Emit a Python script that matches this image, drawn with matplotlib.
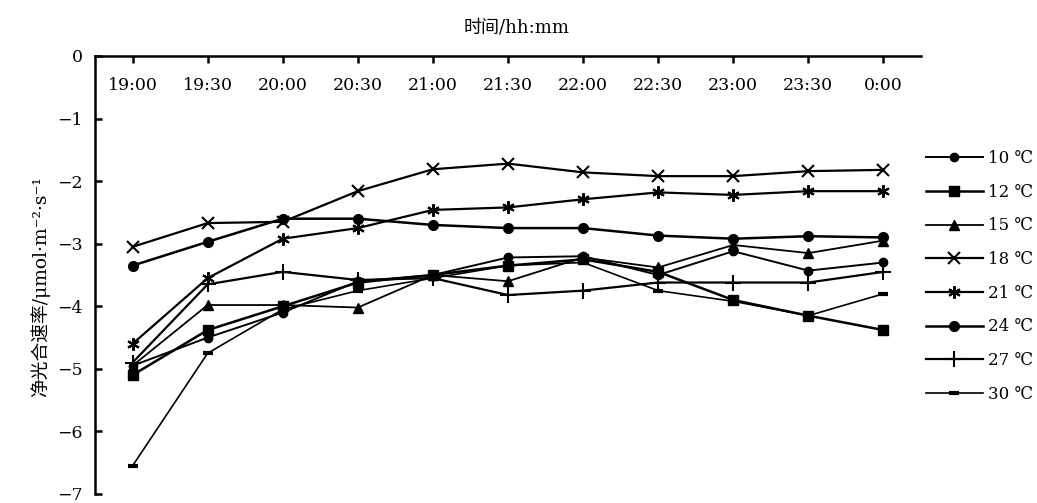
import matplotlib
matplotlib.use("Agg")
import matplotlib.pyplot as plt

plt.rcParams['font.family'] = ['DejaVu Serif', 'Noto Sans CJK SC', 'DejaVu Sans']
plt.rcParams['axes.unicode_minus'] = True

times = ["19:00", "19:30", "20:00", "20:30", "21:00", "21:30",
         "22:00", "22:30", "23:00", "23:30", "0:00"]

t10 = [-4.95, -4.50, -4.10, -3.60, -3.50, -3.22, -3.20, -3.50, -3.12, -3.43, -3.30]
t12 = [-5.10, -4.38, -4.00, -3.62, -3.50, -3.35, -3.25, -3.45, -3.90, -4.15, -4.38]
t15 = [-4.95, -3.98, -3.98, -4.02, -3.50, -3.60, -3.22, -3.38, -3.02, -3.15, -2.95]
t18 = [-3.05, -2.67, -2.65, -2.16, -1.81, -1.72, -1.86, -1.92, -1.92, -1.84, -1.82]
t21 = [-4.60, -3.55, -2.92, -2.75, -2.46, -2.42, -2.29, -2.18, -2.22, -2.16, -2.16]
t24 = [-3.35, -2.97, -2.60, -2.60, -2.70, -2.75, -2.75, -2.87, -2.92, -2.88, -2.90]
t27 = [-4.90, -3.65, -3.45, -3.58, -3.55, -3.82, -3.75, -3.62, -3.62, -3.62, -3.45]
t30 = [-6.55, -4.75, -4.05, -3.75, -3.55, -3.35, -3.30, -3.75, -3.92, -4.15, -3.80]

labels = ["10 ℃", "12 ℃", "15 ℃", "18 ℃", "21 ℃", "24 ℃", "27 ℃", "30 ℃"]
series = [t10, t12, t15, t18, t21, t24, t27, t30]
yticks = [0, -1, -2, -3, -4, -5, -6, -7]

styles = [
    dict(marker='o', ms=6, lw=1.4),
    dict(marker='s', ms=7, lw=1.8),
    dict(marker='^', ms=7, lw=1.3),
    dict(marker='x', ms=8, mew=1.5, lw=1.6),
    dict(marker=(6, 2, 0), ms=9, mew=1.5, lw=1.6),
    dict(marker='o', ms=7, lw=1.8),
    dict(marker='+', ms=11, mew=1.5, lw=1.6),
    dict(marker='_', ms=7, mew=3, lw=1.2),
]

fig = plt.figure(figsize=(10.37, 5.03), dpi=100)
ax = fig.add_axes([95 / 1037, 1 - 494 / 503, 826 / 1037, 438 / 503])

x = list(range(len(times)))
for vals, lab, st in zip(series, labels, styles):
    ax.plot(x, vals, color='black', label=lab, **st)

ax.set_xlim(-0.5, len(times) - 0.5)
ax.set_ylim(-7, 0)
ax.set_xticks(x)
ax.set_xticklabels(times, fontsize=12.5)
ax.set_yticks(yticks)
ax.set_yticklabels([str(v).replace('-', '−') for v in yticks], fontsize=12.5)

ax.tick_params(axis='x', top=True, bottom=False, labeltop=True, labelbottom=False,
               direction='in', length=5, width=1.8, pad=-27)
ax.tick_params(axis='y', direction='in', length=5, width=1.8, pad=9)

for s in ['right', 'bottom']:
    ax.spines[s].set_visible(False)
for s in ['left', 'top']:
    ax.spines[s].set_linewidth(1.8)

ax.text(0.51, 1 + 20 / 438, "时间/hh:mm", transform=ax.transAxes,
        ha='center', va='bottom', fontsize=13)
fig.text(40 / 1037, 1 - 287 / 503, "净光合速率/μmol·m⁻²·s⁻¹", rotation=90,
         ha='center', va='center', fontsize=13.5)

ax.legend(loc='upper left', bbox_to_anchor=(926 / 1037, 1 - 150 / 503),
          bbox_transform=fig.transFigure, frameon=False, fontsize=12,
          handlelength=3.4, handletextpad=0.3, labelspacing=1.0,
          borderpad=0, borderaxespad=0, numpoints=1)

fig.savefig("out.png", dpi=100)
